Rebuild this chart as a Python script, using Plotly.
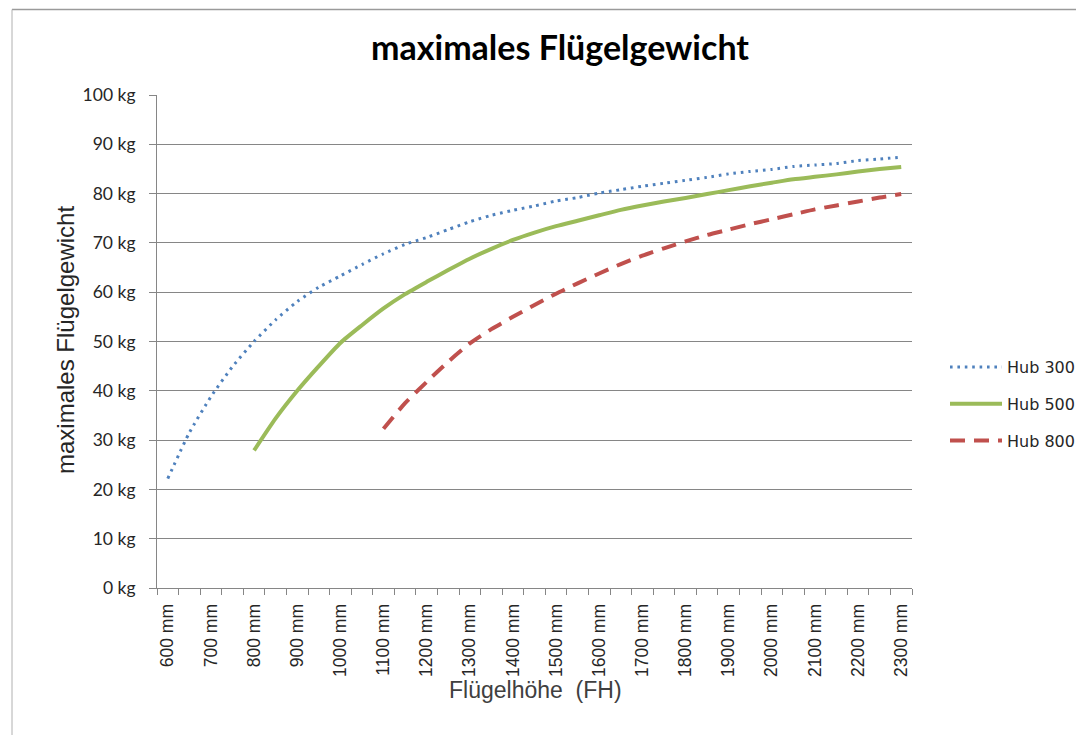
import plotly.graph_objects as go

# Flügelhöhe in mm (category positions every 50 mm)
fh_300 = [600, 650, 700, 750, 800, 850, 900, 950, 1000, 1050, 1100, 1150, 1200, 1250,
          1300, 1350, 1400, 1450, 1500, 1550, 1600, 1650, 1700, 1750, 1800, 1850, 1900,
          1950, 2000, 2050, 2100, 2150, 2200, 2250, 2300]
hub_300 = [22.2, 31.5, 38.8, 44.9, 50.0, 54.4, 58.1, 61.0, 63.3, 65.6, 67.8, 69.7, 71.1, 72.7,
           74.3, 75.6, 76.6, 77.5, 78.5, 79.2, 80.1, 80.8, 81.5, 82.1, 82.7, 83.3, 84.0,
           84.5, 84.9, 85.5, 85.8, 86.1, 86.7, 87.0, 87.4]

fh_500 = [800, 850, 900, 950, 1000, 1050, 1100, 1150, 1200, 1250, 1300, 1350, 1400, 1450,
          1500, 1550, 1600, 1650, 1700, 1750, 1800, 1850, 1900, 1950, 2000, 2050, 2100,
          2150, 2200, 2250, 2300]
hub_500 = [27.9, 34.4, 40.0, 45.0, 49.7, 53.3, 56.7, 59.6, 62.1, 64.5, 66.8, 68.8, 70.6, 72.1,
           73.4, 74.5, 75.6, 76.7, 77.6, 78.4, 79.1, 79.9, 80.7, 81.5, 82.2, 82.9, 83.4,
           83.9, 84.5, 85.0, 85.4]

fh_800 = [1100, 1150, 1200, 1250, 1300, 1350, 1400, 1450, 1500, 1550, 1600, 1650, 1700,
          1750, 1800, 1850, 1900, 1950, 2000, 2050, 2100, 2150, 2200, 2250, 2300]
hub_800 = [32.3, 37.5, 41.8, 45.9, 49.6, 52.5, 55.0, 57.4, 59.7, 61.8, 63.8, 65.7, 67.4,
           68.9, 70.3, 71.6, 72.7, 73.8, 74.8, 75.8, 76.8, 77.6, 78.4, 79.2, 79.9]

x_tickvals = list(range(600, 2301, 100))
x_ticktext = [f"{v} mm" for v in x_tickvals]
y_tickvals = list(range(0, 101, 10))
y_ticktext = [f"{v} kg" for v in y_tickvals]

OFF = 8  # page body margin
W, H = 1084, 735
# target plot area in page pixels: x 157..912, y 95..588
L, T = 157 - OFF, 95 - OFF
R = W - (912 - OFF)
B = H - (588 - OFF)
pw, ph = W - L - R, H - T - B

def px(x):  # page px -> paper x
    return (x - OFF - L) / pw

def py(y):  # page px -> paper y
    return (H - B - (y - OFF)) / ph

fig = go.Figure()
fig.add_trace(go.Scatter(x=fh_300, y=hub_300, name="Hub 300", mode="lines",
                         legendgroup="a",
                         line=dict(color="#4F81BD", width=3, dash="2.6px,4.8px",
                                   shape="spline", smoothing=0.6)))
fig.add_trace(go.Scatter(x=fh_500, y=hub_500, name="Hub 500", mode="lines",
                         legendgroup="b",
                         line=dict(color="#9BBB59", width=4,
                                   shape="spline", smoothing=0.6)))
fig.add_trace(go.Scatter(x=fh_800, y=hub_800, name="Hub 800", mode="lines",
                         legendgroup="c",
                         line=dict(color="#C0504D", width=4, dash="15px,9px",
                                   shape="spline", smoothing=0.6)))

gray = "#868686"
fig.update_layout(
    width=W, height=H,
    margin=dict(l=L, r=R, t=T, b=B),
    paper_bgcolor="white", plot_bgcolor="white",
    title=dict(text="maximales Flügelgewicht", x=(560 - OFF) / W, xanchor="center",
               y=1 - (48 - OFF) / H, yanchor="middle",
               font=dict(family="Lato", size=34, color="#000000", weight="bold")),
    showlegend=True,
    legend=dict(x=px(945), xanchor="left", y=py(404), yanchor="middle",
                tracegroupgap=13, itemwidth=52,
                font=dict(family="DejaVu Sans", size=16, color="#262626")),
    xaxis=dict(range=[575, 2325], tickvals=x_tickvals, ticktext=x_ticktext,
               tickangle=-90, ticks="", showgrid=False, zeroline=False,
               showline=True, linecolor=gray, linewidth=1,
               ticklabelstandoff=8,
               tickfont=dict(family="Liberation Sans", size=17.5, color="#262626"),
               minor=dict(tick0=575, dtick=50, ticks="outside", ticklen=6,
                          tickcolor=gray, showgrid=False)),
    yaxis=dict(range=[0, 100], tickvals=y_tickvals, ticktext=y_ticktext,
               ticks="outside", ticklen=7, tickcolor=gray,
               showgrid=True, gridcolor=gray, gridwidth=1, zeroline=False,
               showline=True, linecolor=gray, linewidth=1,
               ticklabelstandoff=10,
               tickfont=dict(family="Lato", size=17.5, color="#262626")),
    annotations=[
        dict(text="Flügelhöhe  (FH)", xref="paper", yref="paper",
             x=px(535), y=py(690), xanchor="center", yanchor="middle",
             showarrow=False,
             font=dict(family="Liberation Sans", size=23, color="#404040")),
        dict(text="maximales Flügelgewicht", xref="paper", yref="paper",
             x=px(65), y=py(340), xanchor="center", yanchor="middle",
             textangle=-90, showarrow=False,
             font=dict(family="Liberation Sans", size=24, color="#262626")),
    ],
    shapes=[
        dict(type="line", xref="paper", yref="paper", x0=px(12), x1=px(1100),
             y0=py(9.5), y1=py(9.5), line=dict(color="#9a9a9a", width=1.5)),
        dict(type="line", xref="paper", yref="paper", x0=px(12), x1=px(12),
             y0=py(9.5), y1=py(760), line=dict(color="#b0b0b0", width=1)),
    ],
)

fig.write_html("out.html")
